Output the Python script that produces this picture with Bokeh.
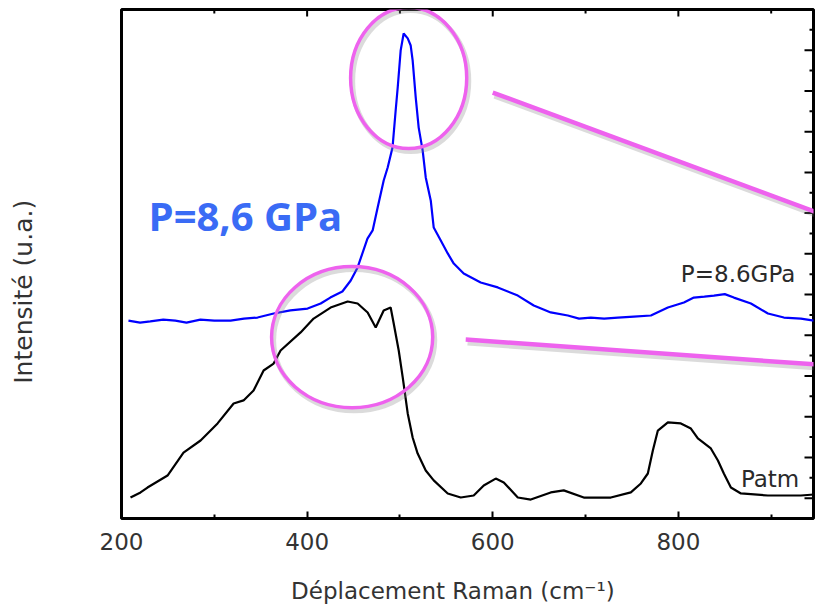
import numpy as np
from bokeh.plotting import figure
from bokeh.models import Range1d, LinearAxis, FixedTicker, Label
from bokeh.embed import file_html
from bokeh.resources import INLINE

# ---- data ----
wavenumber_hp = [207.5, 220, 231, 245, 258, 270, 285, 300, 317.5, 332, 346.6, 364, 382, 400.5, 414.6,
                 425, 438, 447, 454.4, 465, 470.6, 476, 482.5, 486.8, 492, 495.4, 497.6, 500.8, 504,
                 508.4, 511.6, 513.7, 517, 520.2, 524.5, 527.8, 533.2, 536.4, 544, 551.5, 558, 568.7,
                 587, 605.4, 627, 644.2, 662.5, 680.9, 693, 705.7, 720, 734.8, 752, 770.4, 788.7, 806,
                 816.7, 828, 838.3, 850, 859.8, 878.2, 896.5, 913.7, 932, 946]
intensity_hp = [9.72, 9.62, 9.68, 9.77, 9.72, 9.62, 9.77, 9.72, 9.72, 9.82, 9.87, 10.07, 10.22, 10.31,
                10.56, 10.85, 11.15, 11.69, 12.33, 13.75, 14.15, 15.28, 16.60, 17.24, 18.22, 20.04,
                21.17, 22.99, 23.82, 23.58, 23.23, 22.50, 20.68, 19.20, 18.07, 16.75, 15.62, 14.29,
                13.65, 13.02, 12.52, 12.03, 11.59, 11.35, 10.95, 10.46, 10.12, 9.97, 9.82, 9.87, 9.82,
                9.87, 9.92, 9.97, 10.36, 10.61, 10.85, 10.90, 10.95, 11.02, 10.85, 10.56, 10.07, 9.87,
                9.82, 9.72]

wavenumber_atm = [209.7, 220.5, 228, 249.6, 266.8, 285.2, 303.5, 320.8, 331.5, 342.3, 353.1, 363.9,
                  371.4, 393, 407, 425.3, 443.7, 454.4, 465.2, 473.9, 482.5, 490, 493.3, 498.7, 503,
                  508.4, 513.7, 519.1, 527.8, 536.4, 551.5, 565.5, 579.5, 590.3, 603.2, 611.9, 627,
                  641, 662.5, 676.5, 698.1, 727.2, 748.8, 759.6, 767.1, 772.5, 777.9, 788.7, 802.7,
                  813.5, 821, 835, 842.6, 849, 856.6, 867.4, 896.5, 932, 946]
intensity_atm = [1.03, 1.28, 1.52, 2.11, 3.24, 3.83, 4.67, 5.65, 5.80, 6.29, 7.27, 7.61, 8.25, 9.14,
                 9.82, 10.36, 10.66, 10.56, 10.12, 9.38, 10.22, 10.36, 9.58, 8.25, 6.93, 5.16, 3.98,
                 3.19, 2.36, 1.87, 1.23, 1.03, 1.13, 1.62, 1.96, 1.77, 1.03, 0.93, 1.28, 1.38, 1.03,
                 1.03, 1.28, 1.72, 2.21, 3.34, 4.32, 4.72, 4.67, 4.42, 3.93, 3.44, 2.85, 2.21, 1.52,
                 1.23, 1.13, 1.13, 1.18]

x_major_ticks = [200, 400, 600, 800]
x_minor_ticks = [300, 500, 700, 900]
y_major_ticks = [1, 3, 5, 7, 9, 11, 13, 15, 17, 19, 21, 23]
y_minor_ticks = [2, 4, 6, 8, 10, 12, 14, 16, 18, 20, 22, 24]

x_title = "Déplacement Raman (cm⁻¹)"
y_title = "Intensité (u.a.)"
label_big = "P=8,6 GPa"
label_hp = "P=8.6GPa"
label_atm = "Patm"

X_MIN, X_MAX = 200, 945.6
Y_MIN, Y_MAX = 0, 25
MAGENTA = "#EE62EE"
TXT = "#333333"
FONT = "DejaVu Sans"
NBSP = "\u00a0"

p = figure(width=816, height=611, output_backend="svg", toolbar_location=None,
           x_range=Range1d(X_MIN, X_MAX), y_range=Range1d(Y_MIN, Y_MAX),
           x_axis_location=None, y_axis_location=None,
           min_border_left=121, min_border_right=3, min_border_top=9, min_border_bottom=93)
p.background_fill_color = "white"
p.border_fill_color = "white"
p.xgrid.visible = False
p.ygrid.visible = False
p.outline_line_color = "black"
p.outline_line_width = 3

# bottom axis with labels and title
xb = LinearAxis(ticker=FixedTicker(ticks=x_major_ticks, minor_ticks=x_minor_ticks))
xb.axis_line_color = None
xb.major_tick_in = 7
xb.major_tick_out = 0
xb.minor_tick_in = 4
xb.minor_tick_out = 0
xb.major_tick_line_width = 2
xb.minor_tick_line_width = 2
xb.major_label_text_font = FONT
xb.major_label_text_font_size = "23px"
xb.major_label_text_color = TXT
xb.major_label_standoff = 14
xb.axis_label = x_title + NBSP * 4
xb.axis_label_text_font = FONT
xb.axis_label_text_font_size = "23px"
xb.axis_label_text_font_style = "normal"
xb.axis_label_text_color = TXT
xb.axis_label_standoff = 25
p.add_layout(xb, "below")

# left axis: title only
yl = LinearAxis(ticker=FixedTicker(ticks=[]))
yl.axis_line_color = None
yl.major_tick_in = 0
yl.major_tick_out = 0
yl.minor_tick_in = 0
yl.minor_tick_out = 0
yl.axis_label = y_title + NBSP * 7
yl.axis_label_text_font = FONT
yl.axis_label_text_font_size = "25px"
yl.axis_label_text_font_style = "normal"
yl.axis_label_text_color = TXT
yl.axis_label_standoff = 84
p.add_layout(yl, "left")

# mirrored tick marks on top and right (inward)
p.ray(x=x_major_ticks, y=[Y_MAX] * len(x_major_ticks), length=7, length_units="screen",
      angle=-np.pi / 2, line_color="black", line_width=2)
p.ray(x=x_minor_ticks, y=[Y_MAX] * len(x_minor_ticks), length=4, length_units="screen",
      angle=-np.pi / 2, line_color="black", line_width=2)
p.ray(x=[X_MAX] * len(y_major_ticks), y=y_major_ticks, length=9, length_units="screen",
      angle=np.pi, line_color="black", line_width=2)
p.ray(x=[X_MAX] * len(y_minor_ticks), y=y_minor_ticks, length=4, length_units="screen",
      angle=np.pi, line_color="black", line_width=2)

# spectra
p.line(wavenumber_hp, intensity_hp, line_color="#0000FF", line_width=2.2)
p.line(wavenumber_atm, intensity_atm, line_color="black", line_width=2.2)

# magenta annotations (shadow + stroke)
ell_x = [509.4, 448.5]
ell_y = [21.64, 8.91]
ell_w = [125.1, 173.6]
ell_h = [6.93, 6.93]
p.ellipse(x=[v + 2.2 for v in ell_x], y=[v - 0.15 for v in ell_y], width=ell_w, height=ell_h,
          fill_color=None, line_color="#888888", line_alpha=0.3, line_width=5)
p.ellipse(x=ell_x, y=ell_y, width=ell_w, height=ell_h,
          fill_color=None, line_color=MAGENTA, line_width=3.5)

seg_x0 = [600.0, 570.9]
seg_y0 = [20.92, 8.79]
seg_x1 = [949.3, 949.3]
seg_y1 = [15.03, 7.56]
p.segment(x0=[v + 2 for v in seg_x0], y0=[v - 0.15 for v in seg_y0],
          x1=[v + 2 for v in seg_x1], y1=[v - 0.15 for v in seg_y1],
          line_color="#888888", line_alpha=0.3, line_width=6)
p.segment(x0=seg_x0, y0=seg_y0, x1=seg_x1, y1=seg_y1, line_color=MAGENTA, line_width=4.5)

# text labels
p.add_layout(Label(x=229.1, y=14.88, text=label_big, text_font="Open Sans", text_font_style="bold",
                   text_font_size="40px", text_color="#3A6BF5", text_baseline="alphabetic",
                   text_align="left"))
p.add_layout(Label(x=802.7, y=12.03, text=label_hp, text_font=FONT,
                   text_font_size="23px", text_color="#2a2a2a", text_baseline="alphabetic",
                   text_align="left"))
p.add_layout(Label(x=867.4, y=1.96, text=label_atm, text_font=FONT,
                   text_font_size="23px", text_color="#2a2a2a", text_baseline="alphabetic",
                   text_align="left"))

open("out.html", "w").write(file_html(p, INLINE))
